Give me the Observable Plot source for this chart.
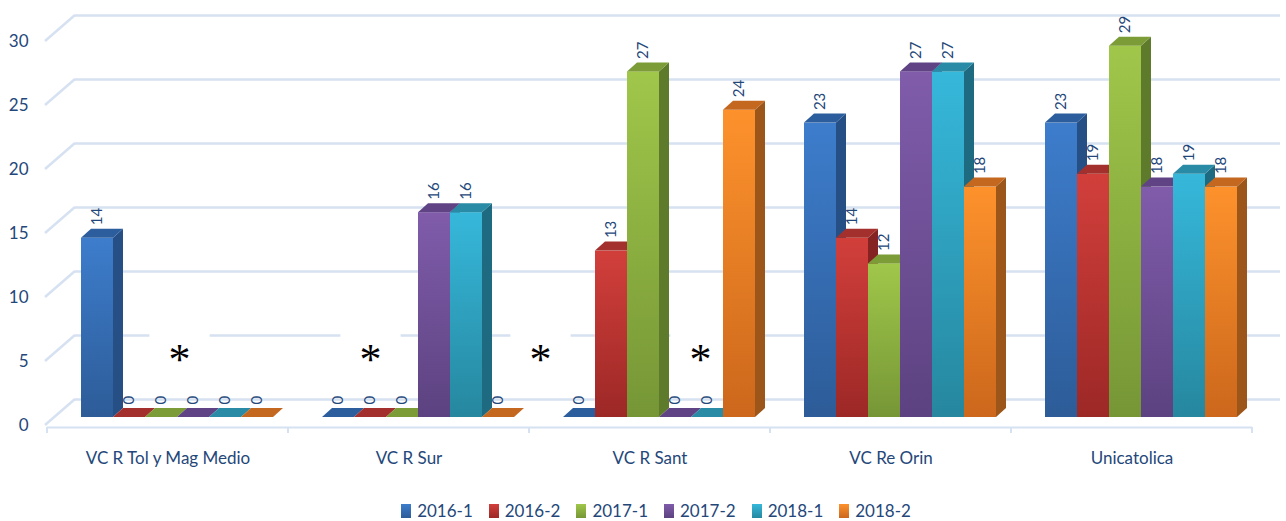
<!DOCTYPE html>
<html>
<head>
<meta charset="utf-8">
<script src="https://cdn.jsdelivr.net/npm/d3@7"></script>
<script src="https://cdn.jsdelivr.net/npm/@observablehq/plot@0.6"></script>
<style>
  html, body { margin: 0; padding: 0; background: #ffffff; }
  #chart svg { display: block; }
  #legend { display: flex; justify-content: center; align-items: center; width: 1286px; height: 31px;
            padding: 10px 0 0 26px; box-sizing: border-box; font-family: Lato, "Open Sans", sans-serif;
            font-size: 17px; color: #24477a; }
  .item { display: flex; align-items: center; margin: 0 8px; }
  .sw { width: 10px; height: 14px; margin-right: 6px; }
</style>
</head>
<body>
<div id="chart"></div>
<div id="legend"></div>
<script>
// ---------- data ----------
const categories = ["VC R Tol y Mag Medio", "VC R Sur", "VC R Sant", "VC Re Orin", "Unicatolica"];
const series = ["2016-1", "2016-2", "2017-1", "2017-2", "2018-1", "2018-2"];
const v2016_1 = [14, 0, 0, 23, 23];
const v2016_2 = [0, 0, 13, 14, 19];
const v2017_1 = [0, 0, 27, 12, 29];
const v2017_2 = [0, 16, 0, 27, 18];
const v2018_1 = [0, 16, 0, 27, 19];
const v2018_2 = [0, 0, 24, 18, 18];
const yTicks = [0, 5, 10, 15, 20, 25, 30];
// asterisk annotations: category + series band they sit on
const asteriskCats = ["VC R Tol y Mag Medio", "VC R Sur", "VC R Sant", "VC R Sant"];
const asteriskSeries = ["2017-1", "2016-2", "2016-1", "2018-1"];

// ---------- styles ----------
const palette = {
  "2016-1": {hi: "#3d7dcc", lo: "#2d5c98", side: "#264f85", top: "#2c5e9e"},
  "2016-2": {hi: "#d23f3b", lo: "#9c2826", side: "#852322", top: "#a3302d"},
  "2017-1": {hi: "#a0c74a", lo: "#769636", side: "#5e7a2b", top: "#7c9c37"},
  "2017-2": {hi: "#805cab", lo: "#5c4280", side: "#4c376b", top: "#5f4385"},
  "2018-1": {hi: "#36b8db", lo: "#26879f", side: "#1e6a80", top: "#2a8ba6"},
  "2018-2": {hi: "#fd922c", lo: "#cc671c", side: "#9c5619", top: "#c4671f"}
};
const textColor = "#24477a";
const gridColor = "#d6e1f1";
const asteriskNudge = [18, 0, -39, -7];
const DEPTH_X = 10, DEPTH_Y = 9;

const valuesBySeries = [v2016_1, v2016_2, v2017_1, v2017_2, v2018_1, v2018_2];
const barData = [];
categories.forEach((c, ci) => series.forEach((s, si) => barData.push({cat: c, series: s, value: valuesBySeries[si][ci]})));

const NS = "http://www.w3.org/2000/svg";
function el(doc, tag, attrs) {
  const e = doc.createElementNS(NS, tag);
  for (const k in attrs) e.setAttribute(k, attrs[k]);
  return e;
}

let gradCount = 0;
function bars3d(index, scales, values, dimensions, context) {
  const doc = context.document;
  const g = el(doc, "g", {});
  const defs = el(doc, "defs", {});
  g.appendChild(defs);
  const uid = "bg" + (gradCount++);
  series.forEach((s, k) => {
    const lg = el(doc, "linearGradient", {id: `${uid}-${k}`, x1: 0, y1: 0, x2: 0, y2: 1});
    lg.appendChild(el(doc, "stop", {offset: 0, "stop-color": palette[s].hi}));
    lg.appendChild(el(doc, "stop", {offset: 1, "stop-color": palette[s].lo}));
    defs.appendChild(lg);
  });
  const X = values.x1 || values.x;
  const bw = values.x2 ? null : (typeof scales.x.bandwidth === "function" ? scales.x.bandwidth() : scales.x.bandwidth);
  const order = Array.from(index).sort((a, b) => X[a] - X[b]);
  for (const i of order) {
    const s = barData[i].series, k = series.indexOf(s), p = palette[s];
    const x1 = X[i], x2 = values.x2 ? values.x2[i] : X[i] + bw;
    const yA = values.y1[i], yB = values.y2[i];
    const yt = Math.min(yA, yB), yb = Math.max(yA, yB);
    // side face
    g.appendChild(el(doc, "path", {
      d: `M${x2},${yt}L${x2 + DEPTH_X},${yt - DEPTH_Y}L${x2 + DEPTH_X},${yb - DEPTH_Y}L${x2},${yb}Z`,
      fill: p.side
    }));
    // front face
    if (yb - yt > 0.2) g.appendChild(el(doc, "rect", {x: x1, y: yt, width: x2 - x1, height: yb - yt, fill: `url(#${uid}-${k})`}));
    // top face
    g.appendChild(el(doc, "path", {
      d: `M${x1},${yt}L${x1 + DEPTH_X},${yt - DEPTH_Y}L${x2 + DEPTH_X},${yt - DEPTH_Y}L${x2},${yt}Z`,
      fill: p.top
    }));
  }
  return g;
}

function diagonals(index, scales, values, dimensions, context) {
  const doc = context.document;
  const g = el(doc, "g", {});
  const ml = dimensions.marginLeft;
  for (const i of index) {
    const y = values.y[i];
    g.appendChild(el(doc, "path", {d: `M${ml - 2},${y + 8}L${ml + 28},${y - 18}`, stroke: gridColor, "stroke-width": 2.5, fill: "none"}));
  }
  return g;
}

function axisTicks(index, scales, values, dimensions, context) {
  const doc = context.document;
  const g = el(doc, "g", {});
  const ml = dimensions.marginLeft, right = dimensions.width - dimensions.marginRight;
  for (const i of index) {
    const y = values.y[i] + 10;
    const xs = i === 0 ? [ml, right] : [right];
    for (const x of xs) g.appendChild(el(doc, "path", {d: `M${x},${y}L${x},${y + 6}`, stroke: gridColor, "stroke-width": 2}));
  }
  return g;
}

const asteriskMarks = asteriskCats.flatMap((c, k) => [
  Plot.dot([k], {fx: () => c, x: () => asteriskSeries[k], y: () => 5, dx: asteriskNudge[k], dy: 0,
                 symbol: "square", r: 34, fill: "white", stroke: "none"}),
  Plot.text([k], {fx: () => c, x: () => asteriskSeries[k], y: () => 5, dx: asteriskNudge[k], dy: 6,
                  text: () => "*", fontSize: 44, fontFamily: "Liberation Serif, serif", fill: "#000"})
]);

const chart = Plot.plot({
  width: 1286,
  height: 490,
  marginLeft: 47,
  marginRight: 34,
  marginTop: 33,
  marginBottom: 73,
  style: {fontFamily: "Lato, 'Open Sans', sans-serif", background: "white", overflow: "visible"},
  fx: {domain: categories, padding: 0, axis: null, label: null},
  x: {domain: series, padding: 0, insetLeft: 33, insetRight: 15, axis: null},
  y: {domain: [0, 30], axis: null},
  marks: [
    Plot.ruleY(yTicks, {y: d => d, dx: 28, dy: -18, stroke: gridColor, strokeWidth: 2.5}),
    Plot.ruleY(yTicks, {fx: () => categories[0], y: d => d, render: diagonals}),
    Plot.ruleY([0], {y: d => d, dy: 10, stroke: gridColor, strokeWidth: 2}),
    Plot.ruleY(categories, {fx: d => d, y: () => 0, render: axisTicks}),
    Plot.text(yTicks, {fx: () => categories[0], y: d => d, text: d => String(d), frameAnchor: "left",
                       textAnchor: "end", dx: -19, dy: 8, fontSize: 17, fill: textColor}),
    Plot.text(categories, {fx: d => d, text: d => d, frameAnchor: "bottom", dy: 46, fontSize: 17, fill: textColor}),
    ...asteriskMarks,
    Plot.barY(barData, {fx: "cat", x: "series", y: "value", render: bars3d}),
    Plot.text(barData, {fx: "cat", x: "series", y: "value", text: d => String(d.value), rotate: -90,
                        textAnchor: "start", dy: -13, fontSize: 15, fill: textColor})
  ]
});
document.getElementById("chart").appendChild(chart);

// legend
const legend = document.getElementById("legend");
series.forEach(s => {
  const item = document.createElement("div");
  item.className = "item";
  const sw = document.createElement("div");
  sw.className = "sw";
  sw.style.background = `linear-gradient(${palette[s].hi}, ${palette[s].lo})`;
  const lab = document.createElement("span");
  lab.textContent = s;
  item.appendChild(sw);
  item.appendChild(lab);
  legend.appendChild(item);
});
</script>
</body>
</html>
